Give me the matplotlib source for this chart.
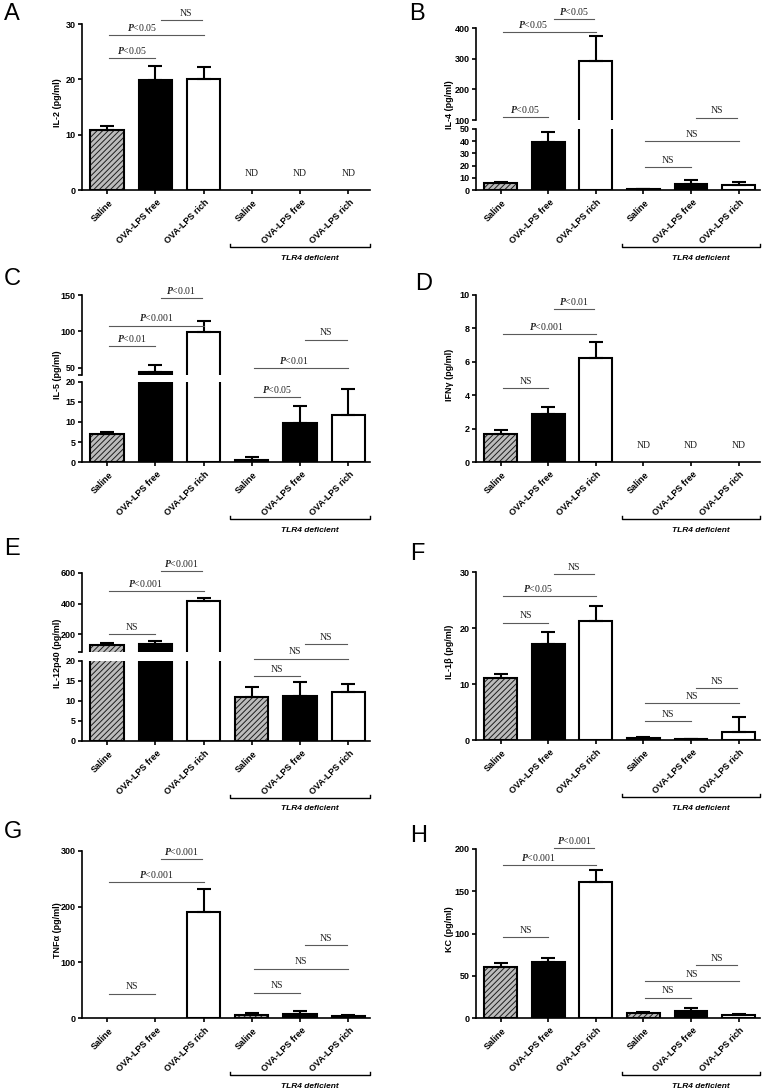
import numpy as np
import matplotlib
matplotlib.use('Agg')
import matplotlib.pyplot as plt
from matplotlib.transforms import ScaledTranslation

W, H, DPI = 766, 1091, 100

plt.rcParams['font.family'] = ['Liberation Sans', 'DejaVu Sans']
plt.rcParams['font.weight'] = 'bold'
plt.rcParams['mathtext.fontset'] = 'custom'
plt.rcParams['mathtext.it'] = 'Liberation Serif:italic'
plt.rcParams['mathtext.rm'] = 'Liberation Serif'
plt.rcParams['hatch.linewidth'] = 0.7

# ---------------- data ----------------
groups = ['Saline', 'OVA-LPS free', 'OVA-LPS rich',
          'Saline', 'OVA-LPS free', 'OVA-LPS rich']
nan = np.nan

il2_mean = [10.8, 19.9, 20.1, nan, nan, nan]
il2_err = [0.8, 2.6, 2.1, nan, nan, nan]
il2_sig = [(0, 1, 23.9, 'P<0.05'), (0, 2, 27.95, 'P<0.05', -0.3), (1, 2, 30.7, 'NS', 0.1)]

il4_mean = [5.5, 39.3, 294, 0.8, 5.0, 4.1]
il4_err = [1.2, 8.0, 79, 0.3, 3.2, 2.8]
il4_sig = [(0, 1, 109, 'P<0.05'), (0, 2, 387, 'P<0.05', -0.33), (1, 2, 430, 'P<0.05'),
           (3, 4, 18.7, 'NS'), (3, 5, 39.8, 'NS'), (4, 5, 108, 'NS')]

il5_mean = [6.9, 44.5, 99, 0.6, 9.7, 11.7]
il5_err = [0.5, 9.0, 15.5, 0.6, 4.4, 6.5]
il5_sig = [(0, 1, 80, 'P<0.01'), (0, 2, 108, 'P<0.001'), (1, 2, 145.5, 'P<0.01'),
           (3, 4, 16.25, 'P<0.05'), (3, 5, 49, 'P<0.01', -0.14), (4, 5, 88.6, 'NS')]

ifng_mean = [1.65, 2.85, 6.2, nan, nan, nan]
ifng_err = [0.25, 0.45, 1.0, nan, nan, nan]
ifng_sig = [(0, 1, 4.44, 'NS'), (0, 2, 7.66, 'P<0.001', -0.05), (1, 2, 9.16, 'P<0.01')]

il12_mean = [128, 139, 419, 10.95, 11.3, 12.2]
il12_err = [17, 18, 21, 2.65, 3.55, 2.1]
il12_sig = [(0, 1, 200, 'NS'), (0, 2, 480, 'P<0.001', -0.22), (1, 2, 611, 'P<0.001'),
            (3, 4, 16.3, 'NS'), (3, 5, 20.6, 'NS', -0.12), (4, 5, 136.6, 'NS')]

il1b_mean = [11.15, 17.1, 21.2, 0.3, 0.1, 1.35]
il1b_err = [0.6, 2.25, 2.65, 0.25, 0.05, 2.8]
il1b_sig = [(0, 1, 20.97, 'NS'), (0, 2, 25.67, 'P<0.05', -0.24), (1, 2, 29.6, 'NS'),
            (3, 4, 3.39, 'NS'), (3, 5, 6.54, 'NS'), (4, 5, 9.2, 'NS')]

tnfa_mean = [nan, nan, 190, 6.0, 7.8, 3.6]
tnfa_err = [nan, nan, 41, 2.2, 4.2, 1.2]
tnfa_sig = [(0, 1, 43.8, 'NS'), (0, 2, 243.6, 'P<0.001'), (1, 2, 286, 'P<0.001'),
            (3, 4, 45.6, 'NS'), (3, 5, 88.8, 'NS'), (4, 5, 131.4, 'NS')]

kc_mean = [60.2, 66.1, 160.8, 5.9, 7.9, 4.0]
kc_err = [4.8, 5.2, 14, 1.6, 4.4, 1.1]
kc_sig = [(0, 1, 95.4, 'NS'), (0, 2, 180.6, 'P<0.001', -0.22), (1, 2, 201.2, 'P<0.001'),
          (3, 4, 24.2, 'NS'), (3, 5, 43.6, 'NS'), (4, 5, 62.2, 'NS')]

# ---------------- layout (pixels) ----------------
LEFT_COL = (82, 370)
RIGHT_COL = (476, 760)

panels = [
    dict(letter='A', lp=(4, 3), col=LEFT_COL, ylabel='IL-2 (pg/ml)', mean=il2_mean, err=il2_err,
         sig=il2_sig, nd=3.0, segs=[((24, 190), (0, 30), [0, 10, 20, 30])]),
    dict(letter='B', lp=(409, 3), col=RIGHT_COL, ylabel='IL-4 (pg/ml)', mean=il4_mean, err=il4_err,
         sig=il4_sig, nd=None, segs=[((28, 120), (100, 400), [100, 200, 300, 400]),
                                     ((129, 190), (0, 50), [0, 10, 20, 30, 40, 50])]),
    dict(letter='C', lp=(4, 268), col=LEFT_COL, ylabel='IL-5 (pg/ml)', mean=il5_mean, err=il5_err,
         sig=il5_sig, nd=None, segs=[((295, 375), (40, 150), [50, 100, 150]),
                                     ((382, 462), (0, 20), [0, 5, 10, 15, 20])]),
    dict(letter='D', lp=(415, 273), col=RIGHT_COL, ylabel='IFN\u03b3 (pg/ml)', mean=ifng_mean,
         err=ifng_err, sig=ifng_sig, nd=1.0, segs=[((295, 462), (0, 10), [0, 2, 4, 6, 8, 10])]),
    dict(letter='E', lp=(4, 538), col=LEFT_COL, ylabel='IL-12p40 (pg/ml)', mean=il12_mean,
         err=il12_err, sig=il12_sig, nd=None, segs=[((573, 652), (85, 600), [200, 400, 600]),
                                                    ((661, 741), (0, 20), [0, 5, 10, 15, 20])]),
    dict(letter='F', lp=(410, 543), col=RIGHT_COL, ylabel='IL-1\u03b2 (pg/ml)', mean=il1b_mean,
         err=il1b_err, sig=il1b_sig, nd=None, segs=[((572, 740), (0, 30), [0, 10, 20, 30])]),
    dict(letter='G', lp=(4, 821), col=LEFT_COL, ylabel='TNF\u03b1 (pg/ml)', mean=tnfa_mean,
         err=tnfa_err, sig=tnfa_sig, nd=None, segs=[((851, 1018), (0, 300), [0, 100, 200, 300])]),
    dict(letter='H', lp=(410, 825), col=RIGHT_COL, ylabel='KC (pg/ml)', mean=kc_mean, err=kc_err,
         sig=kc_sig, nd=None, segs=[((849, 1018), (0, 200), [0, 50, 100, 150, 200])]),
]

fig = plt.figure(figsize=(W / DPI, H / DPI), dpi=DPI)
BW = 0.69
SPINE = 1.2
EDGE = 1.5
SERIF = 'Liberation Serif'


def rect(l, r, t, b):
    return [l / W, 1 - b / H, (r - l) / W, (b - t) / H]


def draw_bars(ax, mean, err):
    for i, (v, e) in enumerate(zip(mean, err)):
        if np.isnan(v):
            continue
        kind = i % 3
        if kind == 0:
            ax.bar(i, v, width=BW, color='#bcbcbc', edgecolor='#1e1e1e', hatch='//////',
                   linewidth=0, zorder=2)
            ax.bar(i, v, width=BW, fill=False, edgecolor='black', linewidth=EDGE, zorder=3)
        elif kind == 1:
            ax.bar(i, v, width=BW, color='black', edgecolor='black', linewidth=EDGE, zorder=3)
        else:
            ax.bar(i, v, width=BW, color='white', edgecolor='black', linewidth=EDGE, zorder=3)
        ax.errorbar(i, v, yerr=[[0], [e]], fmt='none', ecolor='black', elinewidth=EDGE,
                    capsize=5, capthick=EDGE, zorder=4)


for p in panels:
    l, r = p['col']
    axes = []
    nseg = len(p['segs'])
    for k, ((t, b), ylim, ticks) in enumerate(p['segs']):
        ax = fig.add_axes(rect(l, r, t, b))
        ax.set_facecolor('none')
        ax.set_xlim(-0.52, 5.45)
        ax.set_ylim(*ylim)
        ax.set_yticks(ticks)
        ax.spines['top'].set_visible(False)
        ax.spines['right'].set_visible(False)
        ax.spines['left'].set_linewidth(SPINE)
        ax.spines['bottom'].set_linewidth(SPINE)
        ax.tick_params(axis='y', which='both', length=3.2, width=SPINE, pad=1.5, labelsize=6.5)
        if ylim[0] not in ticks:
            ax.set_yticks([ylim[0]], minor=True)
        draw_bars(ax, p['mean'], p['err'])
        is_last = (k == nseg - 1)
        if is_last:
            ax.set_xticks(range(6))
            ax.set_xticklabels(groups, rotation=45, ha='right', va='center',
                               rotation_mode='anchor', fontsize=6.5)
            ax.tick_params(axis='x', length=3, width=SPINE, pad=5)
            offs = ScaledTranslation(3 / 72, 0, fig.dpi_scale_trans)
            for lab in ax.get_xticklabels():
                lab.set_transform(lab.get_transform() + offs)
        else:
            ax.spines['bottom'].set_visible(False)
            ax.set_xticks([])
        axes.append(ax)

    # significance annotations
    for s in p['sig']:
        i, j, y, lab = s[:4]
        dx = s[4] if len(s) > 4 else 0.0
        x1 = i + 0.04 + (0.07 if i % 3 == 1 else 0.0)
        x2 = j + (-0.03 if i % 3 == 1 else 0.0)
        target = axes[0]
        if nseg == 2 and y < p['segs'][0][1][0]:
            target = axes[1]
        target.plot([x1, x2], [y, y], color='#5a5a5a', lw=0.8, clip_on=False, zorder=5)
        txt = '$P$' + lab[1:] if lab.startswith('P') else lab
        target.annotate(txt, ((x1 + x2) / 2 + dx, y), xytext=(0, 3), textcoords='offset points',
                        ha='center', va='baseline', fontsize=7, family=SERIF, weight='normal',
                        annotation_clip=False, color='#222222')

    low = axes[-1]
    if p['nd'] is not None:
        for i in range(3, 6):
            low.text(i, p['nd'], 'ND', ha='center', va='center', fontsize=7, family=SERIF,
                     weight='normal', color='#222222')

    # TLR4 bracket
    hpx = low.get_position().height * H
    yb = -57 / hpx
    tk = 3 / hpx
    low.plot([2.55, 2.55, 5.45, 5.45], [yb + tk, yb, yb, yb + tk], color='black', lw=1.0,
             transform=low.get_xaxis_transform(), clip_on=False)
    low.text(4.2, -68 / hpx, 'TLR4 deficient', transform=low.get_xaxis_transform(),
             ha='center', va='center', fontsize=6, style='italic', weight='bold')

    # y label
    top = p['segs'][0][0][0]
    bot = p['segs'][-1][0][1]
    xc = 58 if p['col'] == LEFT_COL else 449
    yc = (top + bot) / 2 - 4
    fig.text(xc / W, 1 - yc / H, p['ylabel'], rotation=90, ha='center', va='center',
             fontsize=6.5, weight='bold')

    # panel letter
    fig.text(p['lp'][0] / W, 1 - p['lp'][1] / H, p['letter'], ha='left', va='top',
             fontsize=17, weight='normal')

fig.savefig('out.png', dpi=DPI, facecolor='white')
